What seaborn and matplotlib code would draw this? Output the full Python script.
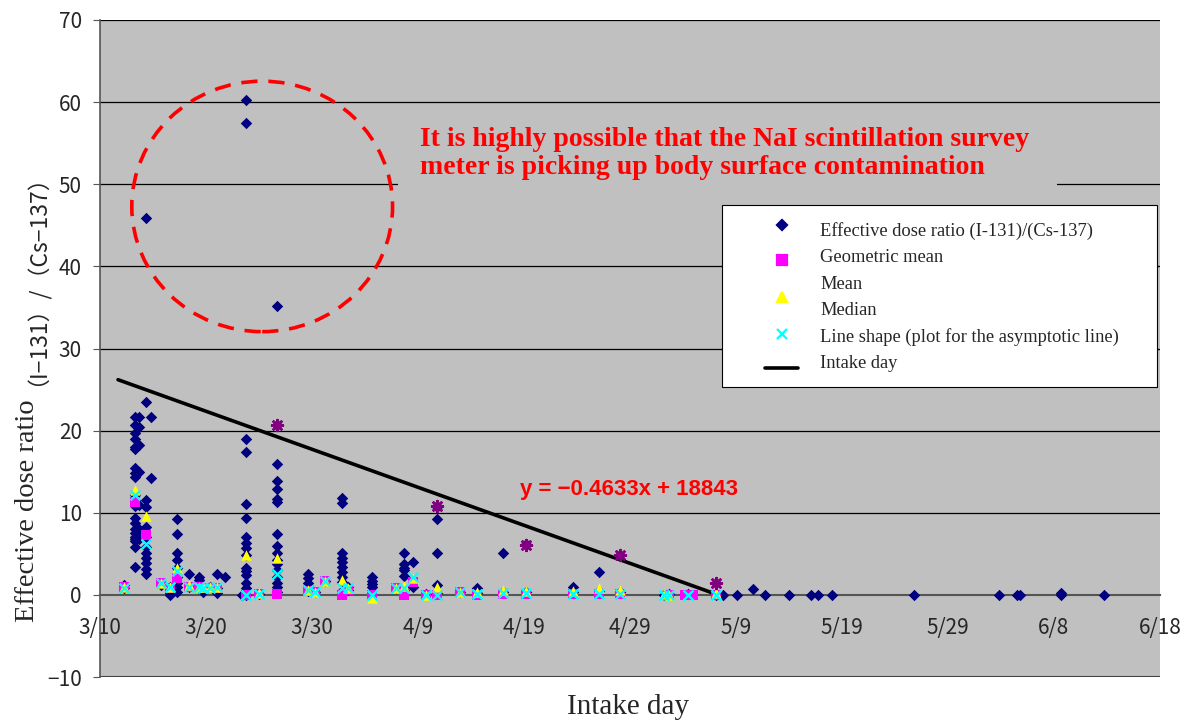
import numpy as np
import pandas as pd
import seaborn as sns
import matplotlib.pyplot as plt
import matplotlib.dates as mdates
from matplotlib.patches import Ellipse, Rectangle
from matplotlib.lines import Line2D

# days counted from 3/10 (2011)
ratio_days = [2.3, 3.3, 3.7, 4.35, 4.8, 5.8, 6.6, 7.3, 8.4, 9.3, 9.7, 10.4, 11.0, 11.8,
              13.4, 13.8, 15.0, 16.7, 19.6, 20.3, 21.2, 22.8, 23.4, 25.7, 27.9, 28.7,
              29.5, 30.8, 31.8, 34.0, 35.6, 38.0, 40.2, 44.6, 47.1, 49.1, 53.2, 53.7,
              55.5, 58.1, 58.8, 60.1, 61.6, 62.7, 65.0, 67.1, 67.7, 69.1, 76.8, 84.8,
              86.5, 86.8, 90.7, 94.7]
ratio_values = [
    [1.2, 0.8],
    [21.7, 20.7, 19.7, 19.0, 18.0, 17.8, 15.5, 14.8, 14.3, 12.2, 11.5, 10.8, 9.4, 8.8,
     8.0, 7.5, 7.0, 6.8, 6.5, 5.8, 3.4],
    [21.7, 20.5, 18.2, 15.0, 11.0, 8.0, 7.2, 6.8],
    [45.9, 23.5, 11.6, 10.7, 8.3, 7.1, 5.8, 5.1, 4.5, 3.9, 3.2, 2.5],
    [21.7, 14.2],
    [1.5, 1.2],
    [1.0, 0.6, 0.2, 0.0],
    [9.2, 7.4, 5.1, 4.3, 3.3, 2.2, 1.5, 1.0, 0.4],
    [2.5, 1.0],
    [2.2, 1.8, 0.8],
    [0.8, 0.3],
    [1.0],
    [2.5, 0.8, 0.2],
    [2.2],
    [0.0],
    [60.3, 57.5, 19.0, 17.4, 11.1, 9.4, 7.1, 6.3, 5.7, 4.9, 3.3, 2.9, 2.4, 1.5, 0.8, 0.0],
    [0.1],
    [35.2, 20.7, 15.9, 13.9, 12.9, 11.7, 11.3, 7.4, 6.0, 5.1, 4.3, 3.7, 3.0, 2.2, 1.5,
     1.0, 0.3],
    [2.5, 2.0, 1.5, 1.1, 0.5],
    [0.4],
    [1.7],
    [11.8, 11.2, 5.1, 4.5, 4.0, 3.4, 2.8, 2.2, 1.6, 0.5],
    [1.0, 0.6],
    [2.2, 1.7, 1.3, 1.0],
    [0.8],
    [5.1, 3.7, 3.3, 3.0, 2.3, 0.6],
    [4.0, 1.0],
    [0.1],
    [10.7, 9.2, 5.1, 1.2, 0.2],
    [0.4],
    [0.8, 0.2],
    [5.1, 0.3],
    [6.2, 0.3],
    [1.0, 0.4],
    [2.8, 0.5],
    [4.8, 0.4],
    [0.0], [0.1], [0.1], [1.4, 0.0], [0.0], [0.0], [0.7], [0.0], [0.0], [0.0], [0.0],
    [0.0], [0.0], [0.0], [0.0], [0.0], [0.2, 0.0], [0.0],
]

geo_days = [2.3, 3.3, 4.35, 5.8, 6.6, 7.3, 8.4, 9.3, 9.7, 10.4, 11.0, 13.8, 15.0, 16.7,
            19.6, 20.3, 21.2, 22.8, 23.4, 25.7, 27.9, 28.7, 29.5, 30.8, 31.8, 34.0,
            35.6, 38.0, 40.2, 44.6, 47.1, 49.1, 53.7, 55.2, 55.9, 58.1]
geo_values = [0.9, 11.3, 7.3, 1.5, 0.8, 2.1, 1.0, 1.0, 0.8, 0.8, 0.8, 0.0, 0.1, 0.1,
              0.5, 0.4, 1.7, 0.0, 0.6, 0.0, 0.8, 0.0, 1.6, 0.0, 0.0, 0.4,
              0.0, 0.1, 0.1, 0.1, 0.1, 0.1, 0.0, 0.0, 0.0, 0.0]

mean_days = [2.3, 3.3, 4.35, 5.8, 6.6, 7.3, 8.4, 9.3, 9.7, 10.4, 11.0, 13.8, 15.0, 16.7,
             19.6, 20.3, 21.2, 22.8, 23.4, 25.7, 27.9, 28.7, 29.5, 30.8, 31.8, 34.0,
             35.6, 38.0, 40.2, 44.6, 47.1, 49.1, 53.2, 53.7, 58.1]
mean_values = [1.0, 12.8, 9.6, 1.5, 1.0, 3.3, 1.2, 1.0, 0.9, 0.9, 0.9, 4.8, 0.2, 4.5,
               0.6, 0.4, 1.7, 1.8, 0.8, -0.4, 0.8, 1.1, 2.0, 0.0, 1.0, 0.4,
               0.3, 0.6, 0.5, 0.5, 0.8, 0.6, 0.1, 0.0, 0.2]

shape_days = [2.3, 3.3, 4.35, 5.8, 6.6, 7.3, 8.4, 9.3, 9.7, 10.4, 11.0, 13.8, 15.0, 16.7,
              19.6, 20.3, 21.2, 22.8, 23.4, 25.7, 27.9, 28.7, 29.5, 30.8, 31.8, 34.0,
              35.6, 38.0, 40.2, 44.6, 47.1, 49.1, 53.2, 53.7, 55.5, 58.1]
shape_values = [0.8, 12.2, 6.2, 1.5, 0.9, 2.9, 1.0, 0.9, 0.8, 0.8, 0.9, 0.0, 0.1, 2.5,
                0.6, 0.4, 1.7, 0.8, 0.8, 0.0, 0.8, 0.8, 2.2, 0.0, 0.0, 0.3,
                0.1, 0.2, 0.2, 0.1, 0.1, 0.1, 0.0, 0.0, 0.0, 0.0]

# days with a single sample: all markers stacked on one point
single_days = [16.7, 31.8, 40.2, 49.1, 58.1]
single_values = [20.7, 10.8, 6.1, 4.8, 1.4]

# regression line y = -0.4633x + 18843 (ends)
trend_days = [1.7, 58.3]
trend_values = [26.2, 0.0]

start = pd.Timestamp("2011-03-10")


def to_dates(days):
    return start + pd.to_timedelta(np.asarray(days, dtype=float), unit="D")


rows = [(d, v) for d, vals in zip(ratio_days, ratio_values) for v in vals]
ratio_df = pd.DataFrame(rows, columns=["day", "ratio"])
ratio_df["date"] = to_dates(ratio_df["day"])

sns.set_style("white")
plt.rcParams["font.family"] = ["Noto Sans CJK JP", "DejaVu Sans"]
serif = "Liberation Serif"

fig = plt.figure(figsize=(11.91, 7.22), dpi=100)
ax = fig.add_axes([100 / 1191, 1 - 677 / 722, 1060 / 1191, 657 / 722])
ax.set_facecolor("#C0C0C0")

sns.lineplot(x=to_dates(trend_days), y=trend_values, color="black", lw=2.6, ax=ax,
             zorder=3)
sns.scatterplot(data=ratio_df, x="date", y="ratio", marker="D", color="#000080",
                s=34, linewidth=0, ax=ax, zorder=4)
sns.scatterplot(x=to_dates(geo_days), y=geo_values, marker="s", color="#FF00FF",
                s=50, linewidth=0, ax=ax, zorder=5)
sns.scatterplot(x=to_dates(mean_days), y=mean_values, marker="^", color="#FFFF00",
                s=56, linewidth=0, ax=ax, zorder=6)
sns.scatterplot(x=to_dates(shape_days), y=shape_values, marker="x", color="#00FFFF",
                s=50, linewidth=1.7, ax=ax, zorder=7)
sns.scatterplot(x=to_dates(single_days), y=single_values, marker=(8, 2, 0),
                color="#800080", s=60, linewidth=1.9, ax=ax, zorder=8)

ax.set_xlim(start, pd.Timestamp("2011-06-18"))
ax.set_ylim(-10, 70)
ax.set_yticks(range(-10, 71, 10))
ax.set_xticks(pd.date_range(start, "2011-06-18", freq="10D"))
ax.xaxis.set_major_formatter(
    plt.FuncFormatter(lambda v, p: f"{mdates.num2date(v).month}/{mdates.num2date(v).day}"))
ax.set_xlabel("")
ax.set_ylabel("")

for y in range(10, 71, 10):
    ax.axhline(y, color="black", lw=0.9, zorder=1)
ax.axhline(-10, color="#404040", lw=1.5, zorder=1)

for s in ["top", "right"]:
    ax.spines[s].set_visible(False)
ax.spines["bottom"].set_position(("data", 0))
ax.spines["bottom"].set_color("#555555")
ax.spines["bottom"].set_linewidth(1.5)
ax.spines["left"].set_color("#555555")
ax.spines["left"].set_linewidth(1.2)
ax.tick_params(axis="x", direction="in", length=5, color="#555555", pad=16,
               labelsize=15)
ax.tick_params(axis="y", direction="out", length=5, color="#555555", pad=8,
               labelsize=15, left=True)

# dashed circle around the outliers
cx = mdates.date2num(start) + 15.3
ax.add_patch(Ellipse((cx, 47.3), 24.6, 30.5, fill=False, edgecolor="#FF0000",
                     lw=2.6, ls=(0, (4.5, 3)), zorder=9))


def axp(px, py):
    return ((px - 100) / 1060, (677 - py) / 657)


# note box hiding the gridline
x0, y0 = axp(398, 188)
x1, y1 = axp(1057, 112)
ax.add_patch(Rectangle((x0, y0), x1 - x0, y1 - y0, transform=ax.transAxes,
                       facecolor="#C0C0C0", edgecolor="none", zorder=2))
note_lines = ["It is highly possible that the NaI scintillation survey",
              "meter is picking up body surface contamination"]
for i, line in enumerate(note_lines):
    ax.text(*axp(420, 140 + i * 27), line, transform=ax.transAxes, family=serif,
            fontweight="bold", color="#FF0000", fontsize=20, ha="left",
            va="center", zorder=10)

ax.text(*axp(520, 490), "y = \u22120.4633x + 18843", transform=ax.transAxes,
        family="Liberation Sans", fontweight="bold", color="#FF0000", fontsize=16,
        ha="left", va="center", zorder=10)

# legend box
lx0, ly0 = axp(722, 387)
lx1, ly1 = axp(1157, 205)
ax.add_patch(Rectangle((lx0, ly0), lx1 - lx0, ly1 - ly0, transform=ax.transAxes,
                       facecolor="white", edgecolor="black", lw=0.8, zorder=11))
leg_labels = ["Effective dose ratio (I-131)/(Cs-137)", "Geometric mean", "Mean",
              "Median", "Line shape (plot for the asymptotic line)", "Intake day"]
for i, lab in enumerate(leg_labels):
    ax.text(*axp(820, 231 + i * 26.6), lab, transform=ax.transAxes, family=serif,
            fontsize=13.3, ha="left", va="center", zorder=12)
leg_marks = [("D", "#000080", 225), ("s", "#FF00FF", 260), ("^", "#FFFF00", 297),
             ("x", "#00FFFF", 334)]
for mk, col, py in leg_marks:
    ax.add_line(Line2D([axp(782, py)[0]], [axp(782, py)[1]], marker=mk, color=col,
                       markersize=6.5 if mk != "D" else 5, mew=1.6, ls="none",
                       transform=ax.transAxes, zorder=12))
ax.add_line(Line2D([axp(765, 368)[0], axp(798, 368)[0]], [axp(765, 368)[1]] * 2,
                   color="black", lw=2.6, transform=ax.transAxes, zorder=12))

fig.text(28 / 1191, 1 - 622 / 722, "Effective dose ratio", rotation=90, family=serif,
         fontsize=20.5, ha="center", va="bottom")
fig.text(25 / 1191, 1 - 386 / 722, "\uff08I\u2212131\uff09/\uff08Cs\u2212137\uff09",
         rotation=90, fontsize=16.5, ha="center", va="bottom")
fig.text(628 / 1191, 1 - 707 / 722, "Intake day", family=serif, fontsize=21,
         ha="center", va="center")

fig.savefig("out.png", dpi=100)
